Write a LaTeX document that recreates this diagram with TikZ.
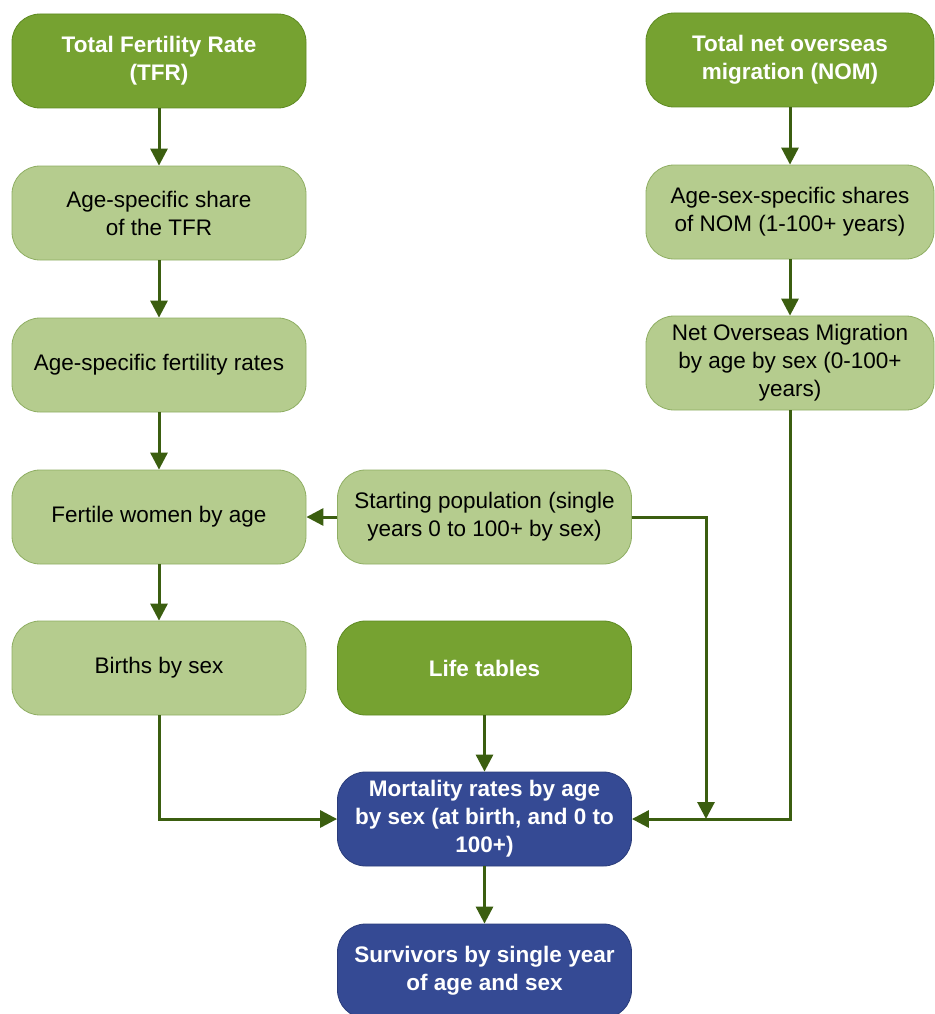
\documentclass[tikz,border=0pt]{standalone}
\usepackage{fontspec}
\setmainfont{Liberation Sans}
\usetikzlibrary{arrows.meta,calc}
\definecolor{dkgreen}{HTML}{76A231}
\definecolor{dkgreenb}{HTML}{5E8A22}
\definecolor{ltgreen}{HTML}{B5CC8E}
\definecolor{ltgreenb}{HTML}{8FAE63}
\definecolor{navy}{HTML}{354A94}
\definecolor{navyb}{HTML}{2A3C7A}
\definecolor{arr}{HTML}{3B5E10}
\tikzset{
  basebox/.style={rounded corners=28pt, minimum width=294pt, minimum height=94pt, align=center, line width=0.8pt, inner sep=2pt},
  lightbox/.style={basebox, fill=ltgreen, draw=ltgreenb, text=black, font=\fontsize{22.5}{28}\selectfont},
  darkbox/.style={basebox, fill=dkgreen, draw=dkgreenb, text=white, font=\fontsize{22.5}{28}\selectfont\bfseries},
  bluebox/.style={basebox, fill=navy, draw=navyb, text=white, font=\fontsize{22.5}{28}\selectfont\bfseries},
  conn/.style={draw=arr, line width=3pt, -{Triangle[length=17pt,width=17pt]}},
}
\begin{document}
\begin{tikzpicture}[x=1pt,y=-1pt]
\useasboundingbox (0,0) rectangle (934,1014);
% left column
\node[darkbox] (tfr) at (159,61) {Total Fertility Rate\\(TFR)};
\node[lightbox] (share) at (159,213) {Age-specific share\\of the TFR};
\node[lightbox] (rates) at (159,365) {Age-specific fertility rates};
\node[lightbox] (fertile) at (159,517) {Fertile women by age};
\node[lightbox] (births) at (159,668) {Births by sex};
% middle column
\node[lightbox] (start) at (484.5,517) {Starting population (single\\years 0 to 100+ by sex)};
\node[darkbox] (life) at (484.5,668) {Life tables};
\node[bluebox] (mort) at (484.5,819) {Mortality rates by age\\by sex (at birth, and 0 to\\100+)};
\node[bluebox] (surv) at (484.5,971) {Survivors by single year\\of age and sex};
% right column
\node[darkbox, minimum width=288pt] (nom) at (790,60) {Total net overseas\\migration (NOM)};
\node[lightbox, minimum width=288pt] (shares) at (790,212) {Age-sex-specific shares\\of NOM (1-100+ years)};
\node[lightbox, minimum width=288pt] (nomage) at (790,363) {Net Overseas Migration\\by age by sex (0-100+\\years)};
\coordinate (j) at (706,819);
% connectors
\draw[conn] (tfr) -- (share);
\draw[conn] (share) -- (rates);
\draw[conn] (rates) -- (fertile);
\draw[conn] (fertile) -- (births);
\draw[conn] (start) -- (fertile);
\draw[conn] (life) -- (mort);
\draw[conn] (mort) -- (surv);
\draw[conn] (nom) -- (shares);
\draw[conn] (shares) -- (nomage);
\draw[conn] (births.south) |- (mort.west);
\draw[conn] (nomage.south) |- (mort.east);
\draw[conn] (start.east) -| (j);
\end{tikzpicture}
\end{document}
